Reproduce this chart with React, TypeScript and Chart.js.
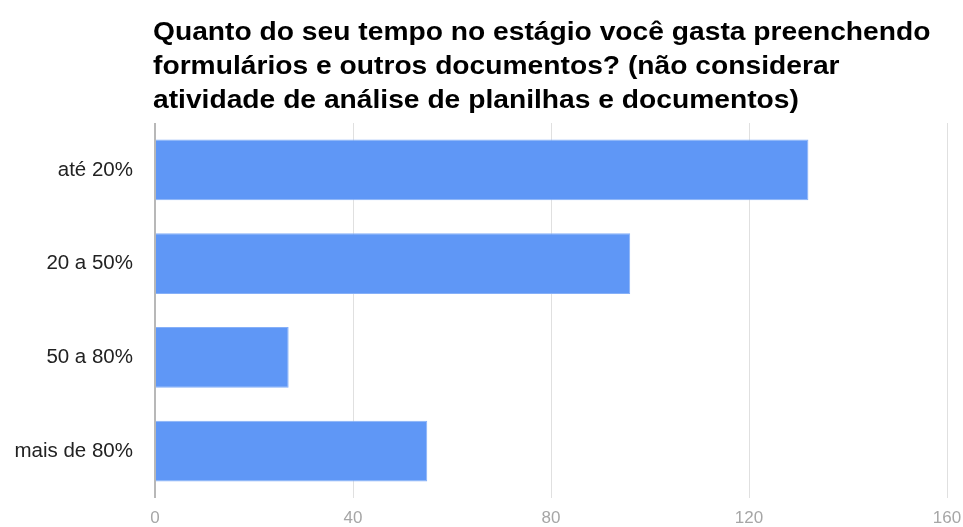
import React, { useEffect, useRef } from "react";
import { Chart, registerables } from "chart.js";

Chart.register(...registerables);

const titleLines = [
  "Quanto do seu tempo no estágio você gasta preenchendo",
  "formulários e outros documentos? (não considerar",
  "atividade de análise de planilhas e documentos)",
];
const categories = ["até 20%", "20 a 50%", "50 a 80%", "mais de 80%"];
const values = [132, 96, 27, 55];
const xTicks = [0, 40, 80, 120, 160];

const titlePlugin = {
  id: "leftTitle",
  afterDraw(chart: any) {
    const ctx = chart.ctx;
    ctx.save();
    ctx.fillStyle = "#000000";
    ctx.font = "bold 26px 'Liberation Sans', Arial, sans-serif";
    ctx.textAlign = "left";
    ctx.textBaseline = "alphabetic";
    const baselines = [40, 74, 108];
    const x0 = chart.chartArea.left - 2;
    ctx.translate(x0, 0);
    ctx.scale(1.085, 1);
    titleLines.forEach((l, i) => ctx.fillText(l, 0, baselines[i]));
    ctx.restore();
  },
};

const zeroPad = (scale: any) => {
  scale.paddingLeft = 0;
  scale.paddingRight = 0;
  scale.paddingTop = 0;
  scale.paddingBottom = 0;
};

export default function App() {
  const ref = useRef<HTMLCanvasElement>(null);
  useEffect(() => {
    const chart = new Chart(ref.current!, {
      type: "bar",
      data: {
        labels: categories,
        datasets: [
          {
            data: values,
            backgroundColor: "#5f97f6",
            borderColor: "#86b0f8",
            borderWidth: 1,
            borderSkipped: "start",
            barPercentage: 0.65,
            categoryPercentage: 1,
          },
        ],
      },
      options: {
        indexAxis: "y",
        animation: false,
        responsive: false,
        devicePixelRatio: 1,
        layout: { padding: { top: 123, right: 16, left: 0, bottom: 0 } },
        plugins: { legend: { display: false }, title: { display: false }, tooltip: { enabled: false } },
        scales: {
          x: {
            min: 0,
            max: 160,
            afterBuildTicks: (scale: any) => {
              scale.ticks = xTicks.map((v) => ({ value: v }));
            },
            afterFit: (scale: any) => {
              scale.height = 29;
              zeroPad(scale);
            },
            grid: {
              drawTicks: false,
              color: (c: any) => (c.tick && c.tick.value === 0 ? "#b8b8b8" : "#e0e0e0"),
              lineWidth: (c: any) => (c.tick && c.tick.value === 0 ? 2 : 1),
            },
            border: { display: false },
            ticks: {
              padding: 10,
              color: "#a6a6a6",
              font: { family: "'Liberation Sans', Arial, sans-serif", size: 17 },
            },
          },
          y: {
            afterFit: (scale: any) => {
              scale.width = 155;
              zeroPad(scale);
            },
            grid: { display: false, drawTicks: false },
            border: { display: false },
            ticks: {
              padding: 22,
              color: "#222222",
              font: { family: "'Liberation Sans', Arial, sans-serif", size: 20.5 },
            },
          },
        },
      },
      plugins: [titlePlugin],
    });
    return () => chart.destroy();
  }, []);
  return (
    <div style={{ position: "absolute", left: 0, top: 0, width: 963, height: 527, background: "#fff" }}>
      <canvas ref={ref} width={963} height={527} style={{ display: "block", width: 963, height: 527 }} />
    </div>
  );
}
